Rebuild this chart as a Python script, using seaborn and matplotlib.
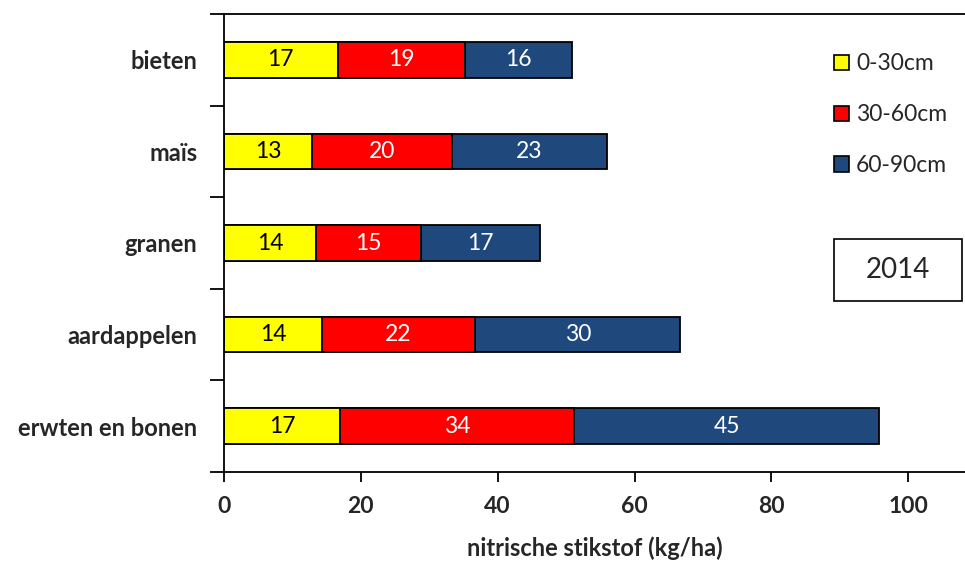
import numpy as np
import pandas as pd
import matplotlib
matplotlib.use('Agg')
import matplotlib.pyplot as plt
from matplotlib.patches import Patch, Rectangle
import seaborn as sns

# data (kg/ha nitrische stikstof per laag)
gewassen = ['bieten', 'maïs', 'granen', 'aardappelen', 'erwten en bonen']
laag_0_30 = [16.6, 12.9, 13.5, 14.3, 17.0]
laag_30_60 = [18.6, 20.4, 15.3, 22.4, 34.1]
laag_60_90 = [15.6, 22.7, 17.4, 30.0, 44.7]
lagen = ['0-30cm', '30-60cm', '60-90cm']
kleuren = ['#FFFF00', '#FF0000', '#1F497D']
tekst_kleuren = ['black', 'white', 'white']
jaar = '2014'

sns.set_theme(style='white')
plt.rcParams['font.family'] = ['Lato', 'DejaVu Sans']

df = pd.DataFrame({'gewas': gewassen, lagen[0]: laag_0_30,
                   lagen[1]: laag_30_60, lagen[2]: laag_60_90})
cum = df[lagen].cumsum(axis=1)

fig = plt.figure(figsize=(9.65, 5.61), dpi=100)
ax = fig.add_axes([224 / 965, 1 - 472 / 561, 1 - 224 / 965, (472 - 14) / 561])

# gestapelde balken: van achter (totaal) naar voor
for i in range(len(lagen) - 1, -1, -1):
    sns.barplot(x=cum[lagen[i]], y=df['gewas'], orient='h', color=kleuren[i],
                saturation=1, width=0.39, edgecolor='black', linewidth=1.3, ax=ax)

# waarden in de balken
for i, laag in enumerate(lagen):
    for j, v in enumerate(df[laag]):
        ax.text(cum[laag][j] - v / 2, j, f'{v:.0f}', ha='center', va='center',
                color=tekst_kleuren[i], fontsize=16.5)

ax.set_xlim(0, 108.3)
ax.set_ylim(4.5, -0.5)
ax.set_xticks([0, 20, 40, 60, 80, 100])
ax.set_yticks(range(len(gewassen)))
ax.set_yticks(np.arange(-0.5, len(gewassen), 1), minor=True)
ax.tick_params(axis='y', which='major', length=0, pad=19, labelsize=17)
ax.tick_params(axis='y', which='minor', length=10, width=1.3, direction='out', color='black', left=True)
ax.tick_params(axis='x', length=7, width=1.3, direction='out', color='black', bottom=True,
               labelsize=16.5, pad=10)
for lab in ax.get_xticklabels() + ax.get_yticklabels():
    lab.set_fontweight('bold')
ax.set_ylabel('')
ax.set_xlabel('nitrische stikstof (kg/ha)', fontsize=17, fontweight='bold', labelpad=14)

for s in ['left', 'bottom', 'top']:
    ax.spines[s].set_color('black')
    ax.spines[s].set_linewidth(1.3)
ax.spines['right'].set_visible(False)

handles = [Patch(facecolor=kleuren[i], edgecolor='black', linewidth=1.2, label=lagen[i])
           for i in range(len(lagen))]
fig.legend(handles=handles, loc='upper left', bbox_to_anchor=(823 / 965, 1 - 42 / 561),
           frameon=False, fontsize=16.5, handlelength=0.65, handleheight=0.65,
           handletextpad=0.3, labelspacing=1.3, borderpad=0)

fig.patches.append(Rectangle((834 / 965, 1 - 301 / 561), 128 / 965, 62 / 561,
                             transform=fig.transFigure, facecolor='white',
                             edgecolor='black', linewidth=1.2))
fig.text(898 / 965, 1 - 270 / 561, jaar, ha='center', va='center', fontsize=20)

fig.savefig('out.png', dpi=100)
